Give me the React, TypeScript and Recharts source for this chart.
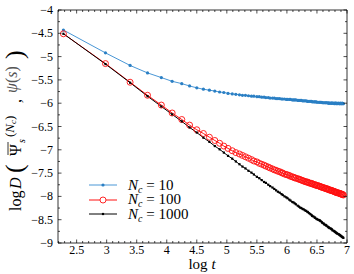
import { LineChart, Line, XAxis, YAxis, Legend } from "recharts";

// log t sample positions (shared by all three runs)
const logT = [
  2.28, 2.98, 3.39, 3.68, 3.91, 4.09, 4.25, 4.38, 4.50, 4.61,
  4.71, 4.80, 4.88, 4.95, 5.02, 5.09, 5.15, 5.21, 5.26, 5.31,
  5.36, 5.41, 5.45, 5.50, 5.54, 5.58, 5.62, 5.65, 5.69, 5.72,
  5.76, 5.79, 5.82, 5.85, 5.88, 5.91, 5.93, 5.96, 5.99, 6.01,
  6.04, 6.06, 6.09, 6.11, 6.13, 6.15, 6.18, 6.20, 6.22, 6.24,
  6.26, 6.28, 6.30, 6.32, 6.34, 6.35, 6.37, 6.39, 6.41, 6.42,
  6.44, 6.46, 6.47, 6.49, 6.50, 6.52, 6.54, 6.55, 6.56, 6.58,
  6.59, 6.61, 6.62, 6.64, 6.65, 6.66, 6.68, 6.69, 6.70, 6.71,
  6.73, 6.74, 6.75, 6.76, 6.78, 6.79, 6.80, 6.81, 6.82, 6.83,
  6.84, 6.86, 6.87, 6.88, 6.89, 6.90, 6.91, 6.92, 6.93, 6.94,
];

const nc10 = [
  -4.43, -4.92, -5.19, -5.35, -5.45, -5.53, -5.58, -5.63, -5.67, -5.70,
  -5.72, -5.74, -5.76, -5.77, -5.79, -5.80, -5.81, -5.82, -5.83, -5.83,
  -5.84, -5.85, -5.85, -5.86, -5.86, -5.87, -5.87, -5.88, -5.88, -5.89,
  -5.89, -5.89, -5.90, -5.90, -5.90, -5.91, -5.91, -5.91, -5.92, -5.92,
  -5.92, -5.92, -5.93, -5.93, -5.93, -5.93, -5.94, -5.94, -5.94, -5.94,
  -5.95, -5.95, -5.95, -5.95, -5.96, -5.96, -5.96, -5.96, -5.96, -5.97,
  -5.97, -5.97, -5.97, -5.97, -5.98, -5.98, -5.98, -5.98, -5.98, -5.98,
  -5.99, -5.99, -5.99, -5.99, -5.99, -5.99, -5.99, -6.00, -6.00, -6.00,
  -6.00, -6.00, -6.00, -6.00, -6.00, -6.01, -6.00, -6.00, -6.01, -6.00,
  -6.01, -6.00, -6.01, -6.01, -6.00, -6.01, -6.01, -6.00, -6.01, -6.01,
];

const nc100 = [
  -4.51, -5.15, -5.55, -5.83, -6.04, -6.21, -6.35, -6.47, -6.57, -6.65,
  -6.73, -6.80, -6.86, -6.92, -6.97, -7.02, -7.06, -7.09, -7.12, -7.15,
  -7.18, -7.21, -7.24, -7.26, -7.29, -7.31, -7.33, -7.35, -7.37, -7.39,
  -7.41, -7.43, -7.44, -7.46, -7.47, -7.49, -7.50, -7.52, -7.53, -7.54,
  -7.55, -7.57, -7.58, -7.59, -7.60, -7.61, -7.62, -7.63, -7.64, -7.65,
  -7.66, -7.67, -7.68, -7.69, -7.69, -7.70, -7.71, -7.72, -7.72, -7.73,
  -7.74, -7.75, -7.75, -7.76, -7.77, -7.77, -7.78, -7.79, -7.79, -7.80,
  -7.81, -7.81, -7.82, -7.83, -7.83, -7.84, -7.84, -7.85, -7.86, -7.86,
  -7.87, -7.87, -7.88, -7.88, -7.89, -7.90, -7.90, -7.91, -7.91, -7.92,
  -7.92, -7.93, -7.93, -7.94, -7.94, -7.95, -7.95, -7.96, -7.96, -7.97,
];

const nc1000 = [
  -4.51, -5.16, -5.56, -5.85, -6.07, -6.24, -6.39, -6.52, -6.63, -6.74,
  -6.83, -6.92, -6.99, -7.06, -7.13, -7.19, -7.25, -7.31, -7.36, -7.40,
  -7.45, -7.49, -7.53, -7.58, -7.61, -7.65, -7.69, -7.71, -7.75, -7.78,
  -7.81, -7.84, -7.87, -7.90, -7.92, -7.95, -7.97, -8.00, -8.02, -8.04,
  -8.07, -8.09, -8.12, -8.13, -8.15, -8.17, -8.20, -8.22, -8.24, -8.25,
  -8.27, -8.28, -8.30, -8.31, -8.33, -8.34, -8.36, -8.38, -8.40, -8.42,
  -8.43, -8.45, -8.46, -8.48, -8.49, -8.50, -8.51, -8.52, -8.53, -8.55,
  -8.57, -8.58, -8.60, -8.61, -8.62, -8.63, -8.65, -8.66, -8.67, -8.68,
  -8.69, -8.70, -8.71, -8.73, -8.74, -8.75, -8.76, -8.77, -8.78, -8.79,
  -8.80, -8.81, -8.82, -8.83, -8.84, -8.85, -8.86, -8.87, -8.88, -8.89,
];

const xTicks = [
  2.2, 2.3, 2.4, 2.5, 2.6, 2.7, 2.8, 2.9, 3.0, 3.1, 3.2, 3.3, 3.4, 3.5, 3.6, 3.7,
  3.8, 3.9, 4.0, 4.1, 4.2, 4.3, 4.4, 4.5, 4.6, 4.7, 4.8, 4.9, 5.0, 5.1, 5.2, 5.3,
  5.4, 5.5, 5.6, 5.7, 5.8, 5.9, 6.0, 6.1, 6.2, 6.3, 6.4, 6.5, 6.6, 6.7, 6.8, 6.9, 7.0,
];
const yTicks = [
  -9, -8.75, -8.5, -8.25, -8, -7.75, -7.5, -7.25, -7, -6.75, -6.5,
  -6.25, -6, -5.75, -5.5, -5.25, -5, -4.75, -4.5, -4.25, -4,
];

const ncLabels = ["10", "100", "1000"];

const rows = logT.map((x, i) => ({ x, nc10: nc10[i], nc100: nc100[i], nc1000: nc1000[i] }));

const FONT = "'Liberation Serif', 'Times New Roman', Times, serif";
const BLUE = "#2a7fc4";
const BLUE_LINE = "#4a97d6";
const RED = "#ff1010";

const isMajor = (v: number) => Math.abs(v * 2 - Math.round(v * 2)) < 1e-6;
const fmt = (v: number) => {
  const s = String(Math.abs(Math.round(v * 100) / 100));
  return v < 0 ? "\u2212" + s : s;
};

// ticks point into the plot, labels only on the half-unit marks
function BottomTick({ x, y, payload }: any) {
  const major = isMajor(payload.value);
  return (
    <g>
      <line x1={x} x2={x} y1={y} y2={y - (major ? 3.5 : 2)} stroke="#000" strokeWidth={0.7} />
      {major && (
        <text x={x} y={y + 10.5} textAnchor="middle" fontSize={12} style={{ fontFamily: FONT }} fill="#000">
          {fmt(payload.value)}
        </text>
      )}
    </g>
  );
}

function TopTick({ x, y, payload }: any) {
  const major = isMajor(payload.value);
  return <line x1={x} x2={x} y1={y} y2={y + (major ? 3.5 : 2)} stroke="#000" strokeWidth={0.7} />;
}

function LeftTick({ x, y, payload }: any) {
  const major = isMajor(payload.value);
  return (
    <g>
      <line x1={x} x2={x + (major ? 3.5 : 2)} y1={y} y2={y} stroke="#000" strokeWidth={0.7} />
      {major && (
        <text x={x - 5} y={y + 4} textAnchor="end" fontSize={12} style={{ fontFamily: FONT }} fill="#000">
          {fmt(payload.value)}
        </text>
      )}
    </g>
  );
}

function RightTick({ x, y, payload }: any) {
  const major = isMajor(payload.value);
  return <line x1={x} x2={x - (major ? 3.5 : 2)} y1={y} y2={y} stroke="#000" strokeWidth={0.7} />;
}

function YTitle() {
  return (
    <g>
      <text transform="rotate(-90)" fontSize={16} fill="#000" style={{ fontFamily: FONT }}>
        <tspan x={-211} y={21}>log</tspan>
        <tspan x={-189} y={21} fontStyle="italic">D</tspan>
        <tspan x={-173} y={23} fontSize={26}>(</tspan>
        <tspan x={-156} y={21}>Ψ</tspan>
        <tspan x={-143} y={25} fontSize={10} fontStyle="italic">s</tspan>
        <tspan x={-137} y={14} fontSize={13}>(</tspan>
        <tspan fontSize={13} fontStyle="italic">N</tspan>
        <tspan fontSize={9} fontStyle="italic" dy={2}>c</tspan>
        <tspan fontSize={13} dy={-2}>)</tspan>
        <tspan x={-103} y={21}>,</tspan>
        <tspan x={-93} y={17} fill="#555" fontStyle="italic">ψ</tspan>
        <tspan fill="#555">(</tspan>
        <tspan fill="#555" fontStyle="italic">s</tspan>
        <tspan fill="#555">)</tspan>
        <tspan x={-59} y={23} fontSize={26}>)</tspan>
      </text>
      <line x1={8} x2={8} y1={155} y2={142} stroke="#000" strokeWidth={0.8} />
    </g>
  );
}

function XTitle() {
  return (
    <text x={202} y={269} textAnchor="middle" fontSize={15} fill="#000" style={{ fontFamily: FONT }}>
      log <tspan fontStyle="italic">t</tspan>
    </text>
  );
}

const blueDot = ({ cx, cy, index }: any) => (
  <circle key={`b${index}`} cx={cx} cy={cy} r={1.6} fill={BLUE} stroke="none" />
);
const redDot = ({ cx, cy, index }: any) => (
  <circle key={`r${index}`} cx={cx} cy={cy} r={3} fill="none" stroke={RED} strokeWidth={0.9} />
);
const blackDot = ({ cx, cy, index }: any) => (
  <rect key={`k${index}`} x={cx - 1.1} y={cy - 1.1} width={2.2} height={2.2} fill="#000" />
);

function LegendBox() {
  const icons = [
    <circle cx={14} cy={7} r={1.6} fill={BLUE} />,
    <circle cx={14} cy={7} r={3} fill="#fff" stroke={RED} strokeWidth={0.9} />,
    <rect x={12.9} y={5.9} width={2.2} height={2.2} fill="#000" />,
  ];
  const colors = [BLUE_LINE, RED, "#000"];
  return (
    <div style={{ fontFamily: FONT, fontSize: 15 }}>
      {ncLabels.map((lab, i) => (
        <div key={lab} style={{ display: "flex", alignItems: "center", height: 14.5 }}>
          <svg width={28} height={14}>
            <line x1={0} x2={28} y1={7} y2={7} stroke={colors[i]} strokeWidth={1} />
            {icons[i]}
          </svg>
          <span style={{ marginLeft: 11, whiteSpace: "nowrap" }}>
            <i>N</i>
            <span style={{ fontSize: 10, fontStyle: "italic", position: "relative", top: 3 }}>c</span>
            {" = " + lab}
          </span>
        </div>
      ))}
    </div>
  );
}

export default function App() {
  return (
    <div style={{ position: "absolute", left: 0, top: 0, width: 354, height: 274, background: "#fff" }}>
      <LineChart width={354} height={274} data={rows} margin={{ top: 9, right: 6, bottom: 0, left: 0 }}>
        <XAxis
          xAxisId="b" type="number" dataKey="x" domain={[2.19, 7]} allowDataOverflow
          ticks={xTicks} interval={0} height={31} tickSize={0} tickMargin={0} tickLine={false}
          tick={BottomTick} axisLine={{ stroke: "#000", strokeWidth: 0.8 }} label={<XTitle />}
        />
        <XAxis
          xAxisId="t" orientation="top" type="number" dataKey="x" domain={[2.19, 7]} allowDataOverflow
          ticks={xTicks} interval={0} height={1} tickSize={0} tickMargin={0} tickLine={false}
          tick={TopTick} axisLine={{ stroke: "#000", strokeWidth: 0.8 }}
        />
        <YAxis
          yAxisId="l" type="number" domain={[-9, -4]} allowDataOverflow
          ticks={yTicks} interval={0} width={58} tickSize={0} tickMargin={0} tickLine={false}
          tick={LeftTick} axisLine={{ stroke: "#000", strokeWidth: 0.8 }} label={<YTitle />}
        />
        <YAxis
          yAxisId="r" orientation="right" type="number" domain={[-9, -4]} allowDataOverflow
          ticks={yTicks} interval={0} width={1} tickSize={0} tickMargin={0} tickLine={false}
          tick={RightTick} axisLine={{ stroke: "#000", strokeWidth: 0.8 }}
        />
        <Legend
          layout="vertical" align="center" verticalAlign="middle"
          wrapperStyle={{ left: 89, top: 178, width: "auto" }}
          content={() => <LegendBox />}
        />
        <Line
          xAxisId="b" yAxisId="l" dataKey="nc10" stroke={BLUE_LINE} strokeWidth={1}
          dot={blueDot} activeDot={false} isAnimationActive={false}
        />
        <Line
          xAxisId="b" yAxisId="l" dataKey="nc100" stroke={RED} strokeWidth={1}
          dot={redDot} activeDot={false} isAnimationActive={false}
        />
        <Line
          xAxisId="b" yAxisId="l" dataKey="nc1000" stroke="#000" strokeWidth={1}
          dot={blackDot} activeDot={false} isAnimationActive={false}
        />
      </LineChart>
    </div>
  );
}
